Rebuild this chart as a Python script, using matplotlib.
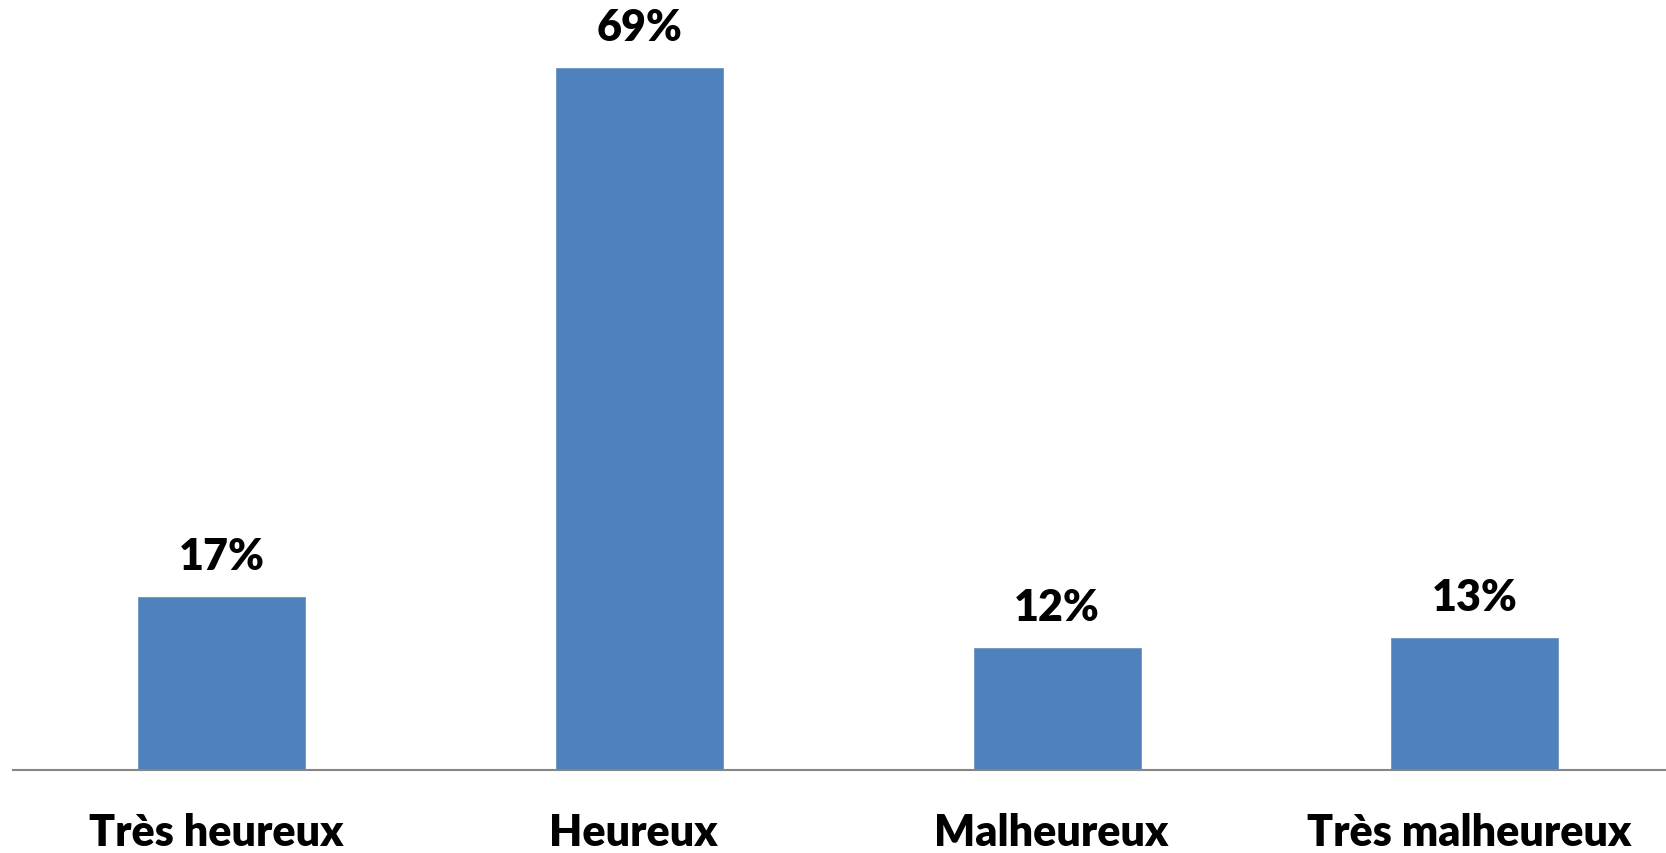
import matplotlib
matplotlib.use("Agg")
import matplotlib.pyplot as plt
import matplotlib.transforms as mtransforms

categories = ["Très heureux", "Heureux", "Malheureux", "Très malheureux"]
values = [17, 69, 12, 13]
value_labels = ["17%", "69%", "12%", "13%"]

plt.rcParams['font.family'] = ['Lato', 'DejaVu Sans']

W, H = 1666, 854
fig = plt.figure(figsize=(W / 100, H / 100), dpi=100)
ax = fig.add_axes([13 / W, (H - 771) / H, (W - 13) / W, 771 / H])

x = list(range(len(categories)))
bars = ax.bar(x, values, width=0.4, color="#4F81BD", edgecolor="#6A93C6", linewidth=0.6, zorder=2)

ax.set_xlim(-0.5, 3.458)
ax.set_ylim(0, 75.8)

for xi, v, lab in zip(x, values, value_labels):
    ax.annotate(lab, (xi, v), xytext=(0, 15), textcoords="offset points",
                ha="center", va="bottom", fontsize=31, fontweight="heavy", color="black")

for s in ["top", "left", "right"]:
    ax.spines[s].set_visible(False)
ax.spines["bottom"].set_color("#868686")
ax.spines["bottom"].set_linewidth(1.5)
ax.set_yticks([])
ax.set_xticks(x)
ax.set_xticklabels(categories, fontsize=31, fontweight="heavy", color="black")
ax.tick_params(axis="x", length=0, pad=30)
offset = mtransforms.ScaledTranslation(-6 / 100, 0, fig.dpi_scale_trans)
for lbl in ax.get_xticklabels():
    lbl.set_transform(lbl.get_transform() + offset)

fig.savefig("out.png", dpi=100)
